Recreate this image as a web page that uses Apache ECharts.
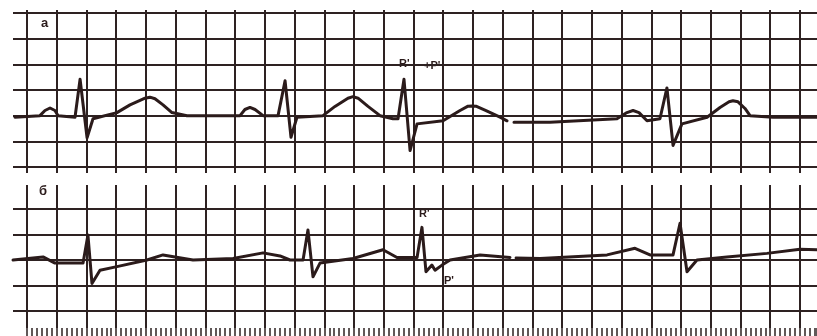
<!DOCTYPE html>
<html>
<head>
<meta charset="utf-8">
<script src="https://cdn.jsdelivr.net/npm/echarts@6/dist/echarts.min.js"></script>
<style>
html,body{margin:0;padding:0;background:#ffffff;}
#chart{width:817px;height:336px;}
</style>
</head>
<body>
<div id="chart"></div>
<script>
// Strip "а" (top): time in seconds, voltage in mV
var topTime = [-0.081,0.087,0.121,0.155,0.188,0.209,0.323,0.357,0.404,0.444,0.605,0.693,0.794,0.827,0.861,0.915,0.975,1.076,1.433,1.466,1.500,1.534,1.588,1.689,1.736,1.776,1.816,1.991,2.072,2.159,2.193,2.227,2.294,2.375,2.462,2.496,2.536,2.577,2.624,2.799,2.913,2.967,2.994,3.020,3.088,3.182,3.229,3.252,3.276,3.518,3.969,4.036,4.077,4.117,4.171,4.258,4.305,4.346,4.406,4.575,4.662,4.723,4.749,4.783,4.830,4.864,5.019,5.315];
var topVolt = [-0.03,0,0.10,0.15,0.10,0,-0.03,0.71,-0.43,-0.06,0.06,0.21,0.34,0.36,0.33,0.21,0.06,0,0,0.12,0.16,0.12,0,0,0.68,-0.42,-0.03,0,0.18,0.34,0.37,0.34,0.18,0,-0.06,-0.06,0.71,-0.68,-0.16,-0.10,0.10,0.185,0.19,0.185,0.10,-0.03,-0.10,null,-0.13,-0.13,-0.06,0.06,0.10,0.06,-0.10,-0.06,0.54,-0.58,-0.16,-0.03,0.16,0.27,0.29,0.27,0.14,0,-0.03,-0.03];
// Strip "б" (bottom)
var botTime = [-0.094,0.108,0.188,0.377,0.410,0.437,0.491,0.605,0.807,0.915,1.117,1.386,1.588,1.702,1.769,1.857,1.890,1.924,1.971,2.193,2.395,2.489,2.624,2.657,2.684,2.724,2.745,2.792,2.846,3.048,3.249,3.270,3.290,3.451,3.902,4.090,4.191,4.346,4.393,4.440,4.507,4.709,4.978,5.200,5.315];
var botVolt = [0,0.06,-0.06,-0.06,0.49,-0.46,-0.20,-0.13,0,0.10,0,0.03,0.14,0.08,0,0,0.59,-0.33,-0.06,0.03,0.20,0.05,0.05,0.64,-0.23,-0.10,-0.20,-0.10,0,0.10,0.05,null,0.04,0.03,0.10,0.23,0.10,0.10,0.72,-0.23,0,0.06,0.13,0.21,0.20];
// Labels
var stripLabels = ["а", "б"];
var annotTop = ["R'", "+P'"];
var annotBot = ["R'", "P'"];

function pairs(t, v){ return t.map(function(x,i){ return [x, v[i]]; }); }

var INK = '#2b1b1b';
var GRIDC = '#2e2222';
var T0 = -0.0942, T1 = 5.3145;

var chart = echarts.init(document.getElementById('chart'), null, {renderer:'canvas'});
function dataX(idx){
  return {gridIndex:idx, type:'value', min:T0, max:T1, show:false, splitLine:{show:false}};
}
function boxX(idx, ruler){
  return {gridIndex:idx, type:'value', min:0, max:T1, interval:0.2,
    axisLine:{show:false},
    axisLabel:{show:false},
    axisTick: ruler ? {show:true, inside:false, length:8, lineStyle:{color:GRIDC, width:1.5}} : {show:false},
    minorTick: ruler ? {show:true, splitNumber:6, length:8, lineStyle:{color:GRIDC, width:1.5}} : {show:false},
    splitLine:{show:true, showMinLine:true, showMaxLine:false, lineStyle:{color:GRIDC, width:2}}};
}
function hY(idx, mn, mx){
  return {gridIndex:idx, type:'value', min:mn, max:mx, interval:0.5,
    axisLine:{show:false}, axisTick:{show:false}, axisLabel:{show:false},
    splitLine:{show:true, lineStyle:{color:GRIDC, width:2}}};
}
function nY(idx){
  return {gridIndex:idx, type:'value', min:0, max:1, show:false, splitLine:{show:false}};
}

var option = {
  backgroundColor:'#ffffff',
  animation:false,
  grid:[
    {left:13, right:0, top:13, height:154},
    {left:27, right:0, top:10, height:163},
    {left:13, right:0, top:209, height:102},
    {left:27, right:0, top:185, height:143}
  ],
  xAxis:[ dataX(0), boxX(1,false), dataX(2), boxX(3,true) ],
  yAxis:[ hY(0,-1,2), nY(1), hY(2,-1,1), nY(3) ],
  series:[
    {type:'line', xAxisIndex:0, yAxisIndex:0, data:pairs(topTime, topVolt), showSymbol:false, connectNulls:false, clip:false,
      lineStyle:{color:INK, width:3, join:'round', cap:'round'}, z:5},
    {type:'line', xAxisIndex:2, yAxisIndex:2, data:pairs(botTime, botVolt), showSymbol:false, connectNulls:false, clip:false,
      lineStyle:{color:INK, width:3, join:'round', cap:'round'}, z:5}
  ],
  graphic:[
    {type:'text', left:41, top:17, style:{text:stripLabels[0], font:'bold 13px "Liberation Sans", sans-serif', fill:INK}},
    {type:'text', left:39, top:185, style:{text:stripLabels[1], font:'bold 13px "Liberation Sans", sans-serif', fill:INK}},
    {type:'text', left:399, top:58, style:{text:annotTop[0], font:'bold 11px "Liberation Sans", sans-serif', fill:INK}},
    {type:'text', left:424, top:60, style:{text:annotTop[1], font:'bold 11px "Liberation Sans", sans-serif', fill:INK}},
    {type:'text', left:419, top:208, style:{text:annotBot[0], font:'bold 11px "Liberation Sans", sans-serif', fill:INK}},
    {type:'text', left:444, top:275, style:{text:annotBot[1], font:'bold 11px "Liberation Sans", sans-serif', fill:INK}}
  ]
};
chart.setOption(option);
</script>
</body>
</html>
